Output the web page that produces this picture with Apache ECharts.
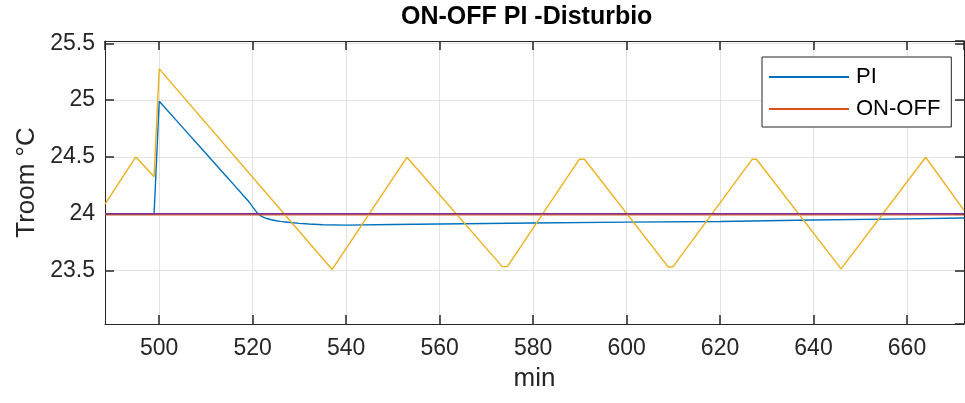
<!DOCTYPE html>
<html>
<head>
<meta charset="utf-8">
<script src="https://cdn.jsdelivr.net/npm/echarts@6/dist/echarts.min.js"></script>
<style>
  html, body { margin: 0; padding: 0; background: #fff; }
  #chart { width: 965px; height: 403px; }
</style>
</head>
<body>
<div id="chart"></div>
<script>
// ---- data ----
const piTime = [488.4, 498.9, 500.0, 505, 510, 515, 518, 519, 520, 521, 522, 523, 524, 525, 526, 527, 528, 530, 532, 535, 540, 550, 560, 580, 600, 620, 640, 660, 672.2];
const piTemp = [23.997, 23.997, 24.99, 24.76, 24.53, 24.30, 24.16, 24.115, 24.06, 24.005, 23.975, 23.958, 23.947, 23.939, 23.933, 23.928, 23.923, 23.915, 23.910, 23.903, 23.900, 23.905, 23.910, 23.918, 23.926, 23.932, 23.945, 23.955, 23.962];

const onoffTime = [488.4, 495.0, 498.9, 500.0, 537.0, 553.0, 573.4, 574.5, 589.9, 591.0, 608.9, 609.9, 626.9, 627.8, 645.9, 664.0, 672.2];
const onoffTemp = [24.085, 24.50, 24.325, 25.275, 23.51, 24.497, 23.535, 23.535, 24.48, 24.48, 23.532, 23.532, 24.48, 24.48, 23.515, 24.497, 24.03];

const refTime = [488.4, 672.2];
const refOnOff = [23.991, 23.991];
const refSetpoint = [24.0, 24.0];

const seriesNames = ['PI', 'ON-OFF'];
const titleText = 'ON-OFF PI -Disturbio';
const xName = 'min';
const yName = 'Troom °C';
const xRange = [488.4, 672.2];
const yRange = [23.03, 25.52];

function pairs(xs, ys) { return xs.map((x, i) => [x, ys[i]]); }

const FONT = '"Liberation Sans", Arial, Helvetica, sans-serif';
const AX = '#262626';
const GRID = '#e3e3e3';

function isMult(v, step) {
  const r = v / step;
  return Math.abs(r - Math.round(r)) < 1e-6;
}

const chart = echarts.init(document.getElementById('chart'), null, { renderer: 'canvas' });

const baseX = {
  type: 'value', min: xRange[0], max: xRange[1], splitNumber: 9,
  axisLine: { show: true, onZero: false, lineStyle: { color: AX, width: 1 } },
  axisTick: { show: true, inside: true, length: 9, lineStyle: { color: AX, width: 1.5 } },
};
const baseY = {
  type: 'value', min: yRange[0], max: yRange[1], splitNumber: 5,
  axisLine: { show: true, onZero: false, lineStyle: { color: AX, width: 1 } },
  axisTick: { show: true, inside: true, length: 9, lineStyle: { color: AX, width: 1.5 } },
};

const option = {
  animation: false,
  backgroundColor: '#fff',
  title: {
    text: titleText,
    left: 401, top: 5, padding: 0,
    textStyle: { fontFamily: FONT, fontSize: 25, fontWeight: 'bold', color: '#000' }
  },
  legend: {
    data: seriesNames,
    orient: 'vertical',
    left: 762, top: 57,
    padding: [9, 11, 7, 7],
    icon: 'rect',
    itemWidth: 80, itemHeight: 2, itemGap: 10,
    backgroundColor: '#fff',
    borderColor: AX, borderWidth: 1,
    textStyle: { fontFamily: FONT, fontSize: 22, color: '#000', padding: [0, 0, 0, 2], lineHeight: 22 }
  },
  grid: { left: 105, right: 1, top: 41, bottom: 79 },
  xAxis: [
    Object.assign({}, baseX, {
      position: 'bottom',
      name: xName, nameLocation: 'middle', nameGap: 42,
      nameTextStyle: { fontFamily: FONT, fontSize: 26, color: AX },
      axisLabel: {
        show: true, margin: 13, fontFamily: FONT, fontSize: 23, color: AX,
        showMinLabel: false, showMaxLabel: false,
        formatter: v => isMult(v, 20) ? String(Math.round(v)) : ''
      },
      splitLine: { show: true, lineStyle: { color: GRID, width: 1 } }
    }),
    Object.assign({}, baseX, {
      position: 'top',
      axisLabel: { show: false },
      splitLine: { show: false }
    })
  ],
  yAxis: [
    Object.assign({}, baseY, {
      position: 'left',
      name: yName, nameLocation: 'middle', nameGap: 60,
      nameTextStyle: { fontFamily: FONT, fontSize: 26, color: AX },
      axisLabel: {
        show: true, margin: 10, fontFamily: FONT, fontSize: 23, color: AX,
        showMinLabel: false, showMaxLabel: false,
        formatter: v => isMult(v, 0.5) ? String(+v.toFixed(1)) : ''
      },
      splitLine: { show: true, lineStyle: { color: GRID, width: 1 } }
    }),
    Object.assign({}, baseY, {
      position: 'right',
      axisLabel: { show: false },
      splitLine: { show: false }
    })
  ],
  series: [
    {
      name: 'PI', type: 'line', data: pairs(piTime, piTemp),
      symbol: 'none', clip: true,
      lineStyle: { color: '#0072BD', width: 1.4 }, itemStyle: { color: '#0072BD' }, z: 3
    },
    {
      name: 'ON-OFF', type: 'line', data: pairs(refTime, refOnOff),
      symbol: 'none', clip: true,
      lineStyle: { color: '#D95319', width: 1.3 }, itemStyle: { color: '#D95319' }, z: 3
    },
    {
      name: 'ON-OFF response', type: 'line', data: pairs(onoffTime, onoffTemp),
      symbol: 'none', clip: true,
      lineStyle: { color: '#EDB120', width: 1.4 }, itemStyle: { color: '#EDB120' }, z: 3
    },
    {
      name: 'Setpoint', type: 'line', data: pairs(refTime, refSetpoint),
      symbol: 'none', clip: true,
      lineStyle: { color: '#7E2F8E', width: 1.5 }, itemStyle: { color: '#7E2F8E' }, z: 3
    }
  ]
};

chart.setOption(option);
</script>
</body>
</html>
